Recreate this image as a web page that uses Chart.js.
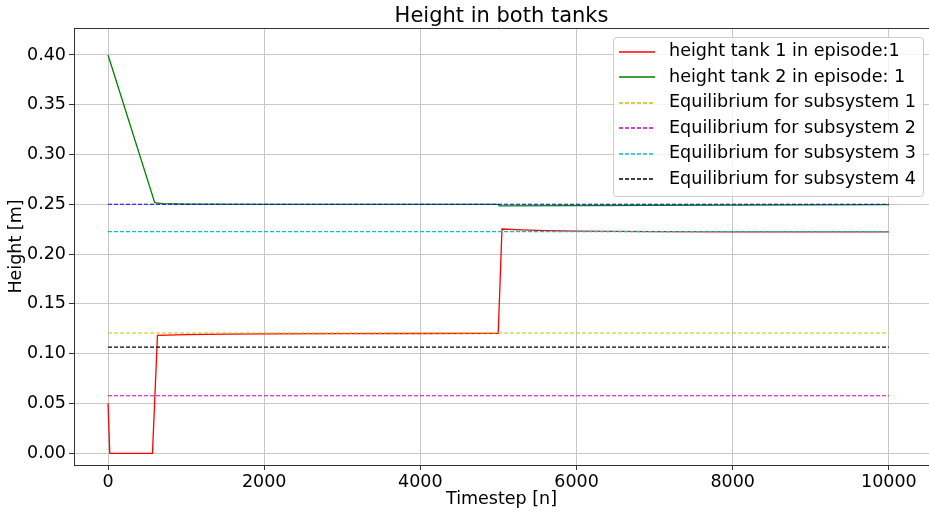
<!DOCTYPE html>
<html>
<head>
<meta charset="utf-8">
<script src="https://cdn.jsdelivr.net/npm/chart.js@4.4.1/dist/chart.umd.min.js"></script>
<style>
    html, body { margin: 0; padding: 0; background: #fff; }
    #wrap { width: 929px; height: 513px; }
</style>
</head>
<body>
<div id="wrap"><canvas id="tankChart" width="929" height="513"></canvas></div>
<script>
// Data
const chartTitle = 'Height in both tanks';
const xTicks = [0, 2000, 4000, 6000, 8000, 10000];
const yTicks = [0.00, 0.05, 0.10, 0.15, 0.20, 0.25, 0.30, 0.35, 0.40];

const tank1X = [0, 22, 569, 633, 1000, 1500, 2000, 3000, 4000, 4997, 5045, 5300, 5600, 6000, 6500, 7000, 8000, 10000];
const tank1Y = [0.0502, 0, 0, 0.1185, 0.1192, 0.1197, 0.1200, 0.1202, 0.1203, 0.1204, 0.2252, 0.2243, 0.2237, 0.2232, 0.2228, 0.2226, 0.2224, 0.2223];

const tank2X = [0, 598, 700, 1000, 2000, 4999, 5010, 6000, 8000, 10000];
const tank2Y = [0.400, 0.2517, 0.2508, 0.2503, 0.2500, 0.2500, 0.2485, 0.2488, 0.2493, 0.2497];

const eqSpan = [0, 10000];
const eqLabels = ['Equilibrium for subsystem 1', 'Equilibrium for subsystem 2', 'Equilibrium for subsystem 3', 'Equilibrium for subsystem 4'];
const eqValues = [0.1208, 0.0578, 0.2227, 0.1067];
const eqColors = ['#c4c400', '#c400c4', '#00c4c4', '#000000'];
const referenceLevel = 0.2501; // blue dashed line, not in the legend

const FONT = 'DejaVu Sans';

function toPoints(xs, ys) {
    return xs.map((x, i) => ({ x: x, y: ys[i] }));
}

const datasets = [
    {
        label: 'height tank 1 in episode:1',
        data: toPoints(tank1X, tank1Y),
        borderColor: '#ff0000',
        borderWidth: 1.3,
        order: 6
    },
    {
        label: 'height tank 2 in episode: 1',
        data: toPoints(tank2X, tank2Y),
        borderColor: '#008000',
        borderWidth: 1.3,
        order: 5
    }
];
eqValues.forEach((v, i) => {
    datasets.push({
        label: eqLabels[i],
        data: toPoints(eqSpan, [v, v]),
        borderColor: eqColors[i],
        borderWidth: 1.2,
        borderDash: [4, 2],
        order: 4 - i
    });
});
datasets.push({
    label: '',
    inLegend: false,
    data: toPoints(eqSpan, [referenceLevel, referenceLevel]),
    borderColor: '#0000ff',
    borderWidth: 1.2,
    borderDash: [4, 2],
    order: 0
});

// Title centred over the plot, top spine
const framePlugin = {
    id: 'frame',
    afterDraw(chart) {
        const { ctx, chartArea } = chart;
        ctx.save();
        ctx.strokeStyle = '#333';
        ctx.lineWidth = 1;
        ctx.beginPath();
        ctx.moveTo(chartArea.left, chartArea.top + 0.5);
        ctx.lineTo(chartArea.right, chartArea.top + 0.5);
        ctx.stroke();
        ctx.fillStyle = '#000';
        ctx.font = '21px "' + FONT + '"';
        ctx.textAlign = 'center';
        ctx.textBaseline = 'middle';
        ctx.fillText(chartTitle, (chartArea.left + chartArea.right) / 2, 16.5);
        ctx.restore();
    }
};

// Matplotlib style legend box in the upper right corner
const boxLegend = {
    id: 'boxLegend',
    afterDatasetsDraw(chart) {
        const { ctx } = chart;
        const items = chart.data.datasets.filter(d => d.inLegend !== false);
        const x0 = 613.5, y0 = 37.5, w = 310, h = 159;
        ctx.save();
        ctx.beginPath();
        ctx.roundRect(x0, y0, w, h, 3);
        ctx.fillStyle = 'rgba(255,255,255,0.8)';
        ctx.fill();
        ctx.strokeStyle = '#cccccc';
        ctx.lineWidth = 1;
        ctx.stroke();
        ctx.font = '17.6px "' + FONT + '"';
        ctx.textBaseline = 'middle';
        ctx.textAlign = 'left';
        items.forEach((d, i) => {
            const y = 51.5 + i * 25.5;
            ctx.strokeStyle = d.borderColor;
            ctx.lineWidth = 1.4;
            ctx.setLineDash(d.borderDash || []);
            ctx.beginPath();
            ctx.moveTo(619, Math.round(y));
            ctx.lineTo(655, Math.round(y));
            ctx.stroke();
            ctx.setLineDash([]);
            ctx.fillStyle = '#000';
            ctx.fillText(d.label, 669, y);
        });
        ctx.restore();
    }
};

const ctx = document.getElementById('tankChart').getContext('2d');
new Chart(ctx, {
    type: 'line',
    data: { datasets: datasets },
    plugins: [framePlugin, boxLegend],
    options: {
        responsive: false,
        animation: false,
        parsing: false,
        layout: { padding: { top: 28, right: 0, bottom: 0, left: 0 } },
        elements: {
            point: { radius: 0 },
            line: { tension: 0, fill: false }
        },
        plugins: {
            legend: { display: false },
            tooltip: { enabled: false },
            title: { display: false }
        },
        scales: {
            x: {
                type: 'linear',
                min: -436,
                max: 10514,
                afterBuildTicks: scale => { scale.ticks = xTicks.map(v => ({ value: v })); },
                afterFit: scale => { scale.height = 48; },
                grid: { color: '#c8c8c8', lineWidth: 1, tickColor: '#333', tickLength: 5 },
                border: { color: '#333', width: 1 },
                ticks: {
                    color: '#000',
                    padding: 2,
                    maxRotation: 0,
                    font: { family: FONT, size: 17.5 },
                    callback: v => String(v)
                },
                title: {
                    display: true,
                    text: 'Timestep [n]',
                    color: '#000',
                    font: { family: FONT, size: 17.5 },
                    padding: { top: 0, bottom: 3 }
                }
            },
            y: {
                type: 'linear',
                min: -0.01175,
                max: 0.4271,
                afterBuildTicks: scale => { scale.ticks = yTicks.map(v => ({ value: v })); },
                afterFit: scale => { scale.width = 74; },
                grid: { color: '#c8c8c8', lineWidth: 1, tickColor: '#333', tickLength: 5 },
                border: { color: '#333', width: 1 },
                ticks: {
                    color: '#000',
                    padding: 3,
                    font: { family: FONT, size: 17.5 },
                    callback: v => Number(v).toFixed(2)
                },
                title: {
                    display: true,
                    text: 'Height [m]',
                    color: '#000',
                    font: { family: FONT, size: 17.5 },
                    padding: { top: 6, bottom: 0 }
                }
            }
        }
    }
});
</script>
</body>
</html>
